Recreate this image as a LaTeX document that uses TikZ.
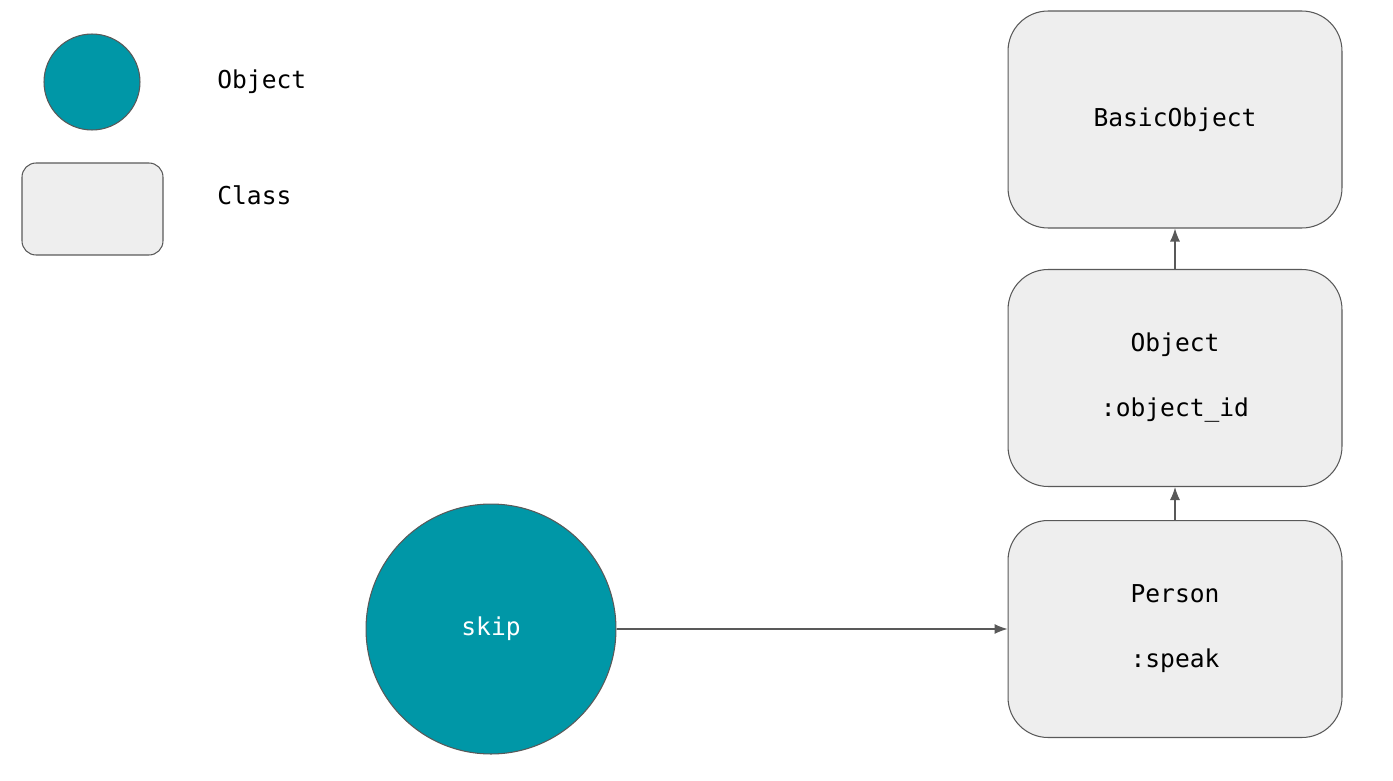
\documentclass[tikz,border=0pt]{standalone}
\usepackage{fontspec}
\setmonofont{DejaVu Sans Mono}
\usetikzlibrary{arrows.meta}
\definecolor{teal}{HTML}{0097A7}
\definecolor{boxgrey}{HTML}{EEEEEE}
\definecolor{edge}{HTML}{595959}
\tikzset{
  classbox/.style={draw=edge, fill=boxgrey, line width=0.6pt, rounded corners=0.8cm,
    minimum width=6.68cm, minimum height=4.34cm, align=center,
    font=\ttfamily\fontsize{14}{37}\selectfont},
  objcircle/.style={circle, draw=edge, fill=teal, line width=0.6pt, inner sep=0pt,
    text=white, font=\ttfamily\fontsize{14}{16}\selectfont},
  legendtext/.style={anchor=west, inner sep=0pt, font=\ttfamily\fontsize{14}{16}\selectfont},
  link/.style={draw=edge, line width=0.6pt, -{Latex[length=2.6mm,width=2mm]}}
}
\begin{document}
\begin{tikzpicture}[x=0.02cm, y=-0.02cm]
\useasboundingbox (0,0) rectangle (1393,781);
% legend
\node[objcircle, minimum size=1.92cm] (legobj) at (92,82) {};
\node[legendtext] (legobjtext) at (217,82) {Object};
\node[classbox, minimum width=2.82cm, minimum height=1.84cm, rounded corners=0.28cm] (legcls) at (92.5,209) {};
\node[legendtext] (legclstext) at (217,195) {Class};
% classes
\node[classbox] (basic) at (1175,119.5) {BasicObject};
\node[classbox] (object) at (1175,378) {Object\\:object\_id};
\node[classbox] (person) at (1175,629) {Person\\:speak};
% object
\node[objcircle, minimum size=5cm] (skip) at (491,629) {skip};
% links
\draw[link] (skip) -- (person);
\draw[link] (person) -- (object);
\draw[link] (object) -- (basic);
\end{tikzpicture}
\end{document}
